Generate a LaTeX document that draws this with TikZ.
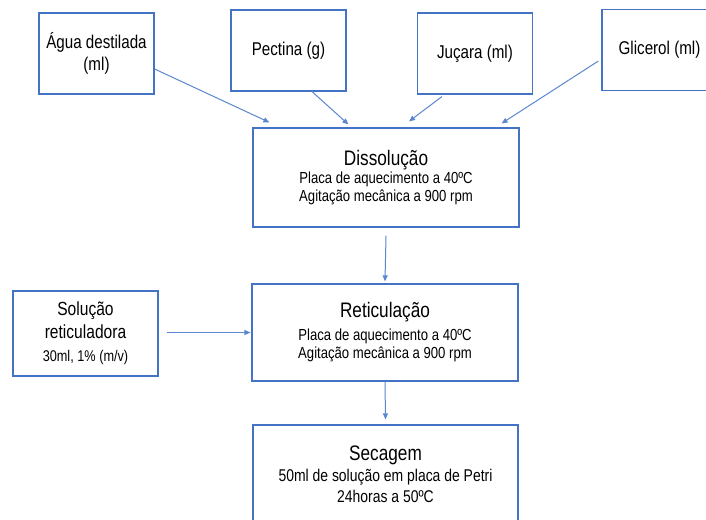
\documentclass[tikz,border=0pt]{standalone}
\usepackage{fontspec}
\setmainfont{Liberation Sans}[FakeStretch=0.82]
\usepackage{xcolor}
\usetikzlibrary{arrows.meta,positioning,calc}

\definecolor{boxblue}{HTML}{4472C4}
\definecolor{linkblue}{HTML}{5B87D0}

\newcommand{\steptitle}[1]{{\fontsize{21}{24}\selectfont #1}}

\tikzset{
    inbox/.style={draw=boxblue, line width=1.2pt, text=black, align=center,
        minimum width=115pt, minimum height=81pt, inner sep=2pt,
        font=\fontsize{18.5}{22}\selectfont},
    stepbox/.style={draw=boxblue, line width=1.2pt, text=black, align=center,
        minimum width=266pt, minimum height=98pt, inner sep=2pt,
        font=\fontsize{16}{18}\selectfont},
    link/.style={draw=linkblue, line width=1pt, -{Triangle[length=6pt,width=5pt]}},
}

\begin{document}
\begin{tikzpicture}[x=1pt,y=-1pt]
    \clip (0,0) rectangle (706,519);
    \fill[white] (0,0) rectangle (706,519);

    % ingredients
    \node[inbox] (agua) at (96.5,53.5) {Água destilada\\(ml)};
    \node[inbox] (pectina) at (288.5,50.5) {Pectina (g)};
    \node[inbox] (jucara) at (475,53.5) {Juçara (ml)};
    \node[inbox] (glicerol) at (659.5,50) {Glicerol (ml)};

    % process steps
    \node[stepbox, minimum height=99pt] (dissol) at (386,177.5)
        {\steptitle{Dissolução}\\Placa de aquecimento a 40ºC\\Agitação mecânica a 900 rpm};
    \node[stepbox, minimum height=97pt] (retic) at (385,332.5)
        {\steptitle{Reticulação}\\[5pt]Placa de aquecimento a 40ºC\\Agitação mecânica a 900 rpm};
    \node[stepbox, minimum width=265pt, font=\fontsize{17}{21}\selectfont] (secagem) at (385.5,474)
        {\steptitle{Secagem}\\50ml de solução em placa de Petri\\24horas a 50ºC};

    \node[inbox, minimum width=145pt, minimum height=85pt, font=\fontsize{19}{23}\selectfont] (solucao) at (85.5,333.5)
        {Solução\\reticuladora\\{\fontsize{15.5}{18}\selectfont 30ml, 1\% (m/v)}};

    % connectors
    \draw[link] ([yshift=-15.5pt]agua.east) -- ([xshift=17pt,yshift=5pt]dissol.north west);
    \draw[link] ([xshift=23.5pt]pectina.south) -- ([xshift=96pt,yshift=3pt]dissol.north west);
    \draw[link] ([xshift=25pt,yshift=-2pt]jucara.south west) -- ([xshift=23pt,yshift=6pt]dissol.north);
    \draw[link] ([xshift=-3pt,yshift=-11pt]glicerol.west) -- ([xshift=-18pt,yshift=4pt]dissol.north east);
    \draw[link] ([yshift=-8pt]dissol.south) -- ([yshift=2pt]retic.north);
    \draw[link] ([xshift=8pt,yshift=1pt]solucao.east) -- ([xshift=-1pt]retic.west);
    \draw[link] (retic.south) -- ([yshift=5pt]secagem.north);
\end{tikzpicture}
\end{document}
